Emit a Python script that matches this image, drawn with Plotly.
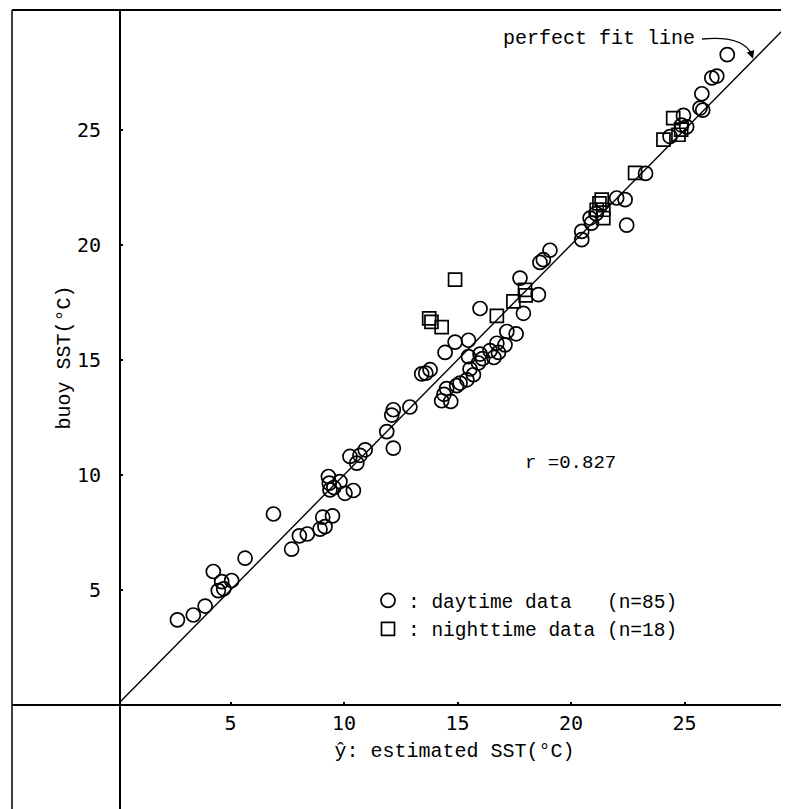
import plotly.graph_objects as go

# daytime data (circles): estimated SST (x) vs buoy SST (y)
day_est = [2.66, 3.36, 3.88, 4.24, 4.61, 4.46, 5.05, 5.64, 6.89, 7.69,
           8.03, 8.38, 8.94, 9.16, 9.06, 9.49, 9.38, 9.31, 9.35, 9.82,
           10.04, 10.41, 10.26, 10.56, 10.93, 11.88, 12.10, 12.17, 12.17, 12.90,
           13.42, 13.60, 13.79, 14.30, 14.70, 14.52, 14.96, 15.11, 15.41, 15.55,
           15.92, 15.99, 15.48, 14.45, 14.89, 15.48, 16.43, 16.73, 16.80, 17.09,
           17.17, 17.58, 15.99, 17.90, 18.56, 17.75, 18.63, 19.07, 20.47, 20.47,
           20.84, 20.90, 22.01, 22.38, 22.45, 23.28, 24.36, 24.87, 25.09, 24.95,
           25.68, 25.76, 26.20, 26.42, 26.88, 9.55, 10.70, 15.70, 16.10, 16.60,
           21.10, 25.80, 4.70, 14.40, 18.78]
day_buoy = [3.70, 3.91, 4.30, 5.80, 5.36, 4.97, 5.41, 6.38, 8.30, 6.77,
            7.35, 7.43, 7.64, 7.75, 8.16, 8.22, 9.35, 9.93, 9.64, 9.71,
            9.20, 9.32, 10.80, 10.51, 11.09, 11.88, 12.60, 12.83, 11.16, 12.95,
            14.39, 14.42, 14.57, 13.22, 13.19, 13.75, 13.88, 13.99, 14.13, 14.60,
            14.86, 15.25, 15.14, 15.32, 15.77, 15.85, 15.40, 15.72, 15.32, 15.65,
            16.23, 16.13, 17.23, 17.02, 17.83, 18.55, 19.23, 19.76, 20.22, 20.58,
            21.16, 20.94, 22.03, 21.96, 20.85, 23.10, 24.70, 25.20, 25.12, 25.62,
            25.94, 26.56, 27.25, 27.33, 28.26, 9.45, 10.85, 14.35, 15.05, 15.10,
            21.35, 25.85, 5.05, 13.50, 19.35]

# nighttime data (squares)
night_est = [14.89, 13.75, 13.85, 14.30, 16.73, 17.46, 17.97, 18.00, 21.35, 21.13,
             21.42, 21.42, 22.82, 24.50, 24.73, 24.07, 21.25, 24.85]
night_buoy = [18.48, 16.80, 16.65, 16.42, 16.91, 17.54, 18.04, 17.80, 21.96, 21.52,
              21.52, 21.16, 23.12, 25.50, 24.78, 24.57, 21.80, 25.00]

fit_line = [0, 31]
tick_vals = [5, 10, 15, 20, 25]
tick_text = ["5", "10", "15", "20", "25"]

mono = "Liberation Mono, Noto Sans CJK JP, monospace"
NB = "\u00a0"

fig = go.Figure()
fig.add_trace(go.Scatter(x=fit_line, y=fit_line, mode="lines",
                         line=dict(color="black", width=1.4), showlegend=False,
                         hoverinfo="skip"))
fig.add_trace(go.Scatter(x=day_est, y=day_buoy, mode="markers",
                         name=":" + NB + "daytime" + NB + "data" + NB * 3 + "(n=85)",
                         marker=dict(symbol="circle-open", size=14, color="black",
                                     line=dict(width=1.7, color="black"))))
fig.add_trace(go.Scatter(x=night_est, y=night_buoy, mode="markers",
                         name=":" + NB + "nighttime" + NB + "data" + NB + "(n=18)",
                         marker=dict(symbol="square-open", size=13, color="black",
                                     line=dict(width=1.7, color="black"))))

# frame and axis lines (paper coords)
L = -108 / 669.0
B = -104 / 695.0
lines = [
    (L, 0, 1, 0, 2),   # horizontal axis line
    (0, B, 0, 1, 2),   # vertical axis line
    (L, 1, 1, 1, 2),   # top frame
    (L, B, L, 1, 1.5),  # left frame
]
for x0, y0, x1, y1, w in lines:
    fig.add_shape(type="line", xref="paper", yref="paper", x0=x0, y0=y0, x1=x1, y1=y1,
                  line=dict(color="black", width=w))

# curved arrow from label to the fit line
fig.add_shape(type="path", xref="paper", yref="paper",
              path="M 0.870 0.9583 Q 0.932 0.9640 0.9447 0.9353",
              line=dict(color="black", width=1.3))
fig.add_annotation(xref="paper", yref="paper", x=0.9462, y=0.9300, ax=-3, ay=-9,
                   text="", showarrow=True, arrowhead=2, arrowsize=1.2,
                   arrowwidth=1.3, arrowcolor="black")

fig.add_annotation(xref="paper", yref="paper", x=0.716, y=0.9597,
                   xanchor="center", yanchor="middle", text="perfect fit line",
                   showarrow=False, font=dict(family=mono, size=20, color="black"))
fig.add_annotation(x=19.97, y=10.52, text="r =0.827", showarrow=False,
                   xanchor="center", yanchor="middle",
                   font=dict(family=mono, size=19, color="black"))

fig.update_layout(
    width=781, height=801,
    margin=dict(l=112, r=0, t=2, b=104),
    paper_bgcolor="white", plot_bgcolor="white",
    showlegend=True,
    legend=dict(x=0.3707, y=0.178, xanchor="left", yanchor="top",
                font=dict(family=mono, size=19.5, color="black"),
                itemsizing="trace", itemwidth=30, tracegroupgap=0,
                bgcolor="rgba(0,0,0,0)"),
    xaxis=dict(range=[0.13, 29.6], showgrid=False, zeroline=False, showline=False,
               tickvals=tick_vals, ticktext=tick_text, ticks="inside", ticklen=3,
               tickcolor="black", tickwidth=1.5, ticklabelstandoff=4,
               tickfont=dict(family="DejaVu Sans Mono", size=20, color="black"),
               title=dict(text="ŷ: estimated SST(°C)", standoff=8,
                          font=dict(family=mono, size=20, color="black"))),
    yaxis=dict(range=[0, 30.2], showgrid=False, zeroline=False, showline=False,
               tickvals=tick_vals, ticktext=tick_text, ticks="inside", ticklen=3,
               tickcolor="black", tickwidth=1.5, ticklabelstandoff=18,
               tickfont=dict(family="DejaVu Sans Mono", size=20, color="black"),
               title=dict(text="buoy SST(°C)", standoff=0,
                          font=dict(family=mono, size=20, color="black"))),
)

fig.write_html("out.html")
